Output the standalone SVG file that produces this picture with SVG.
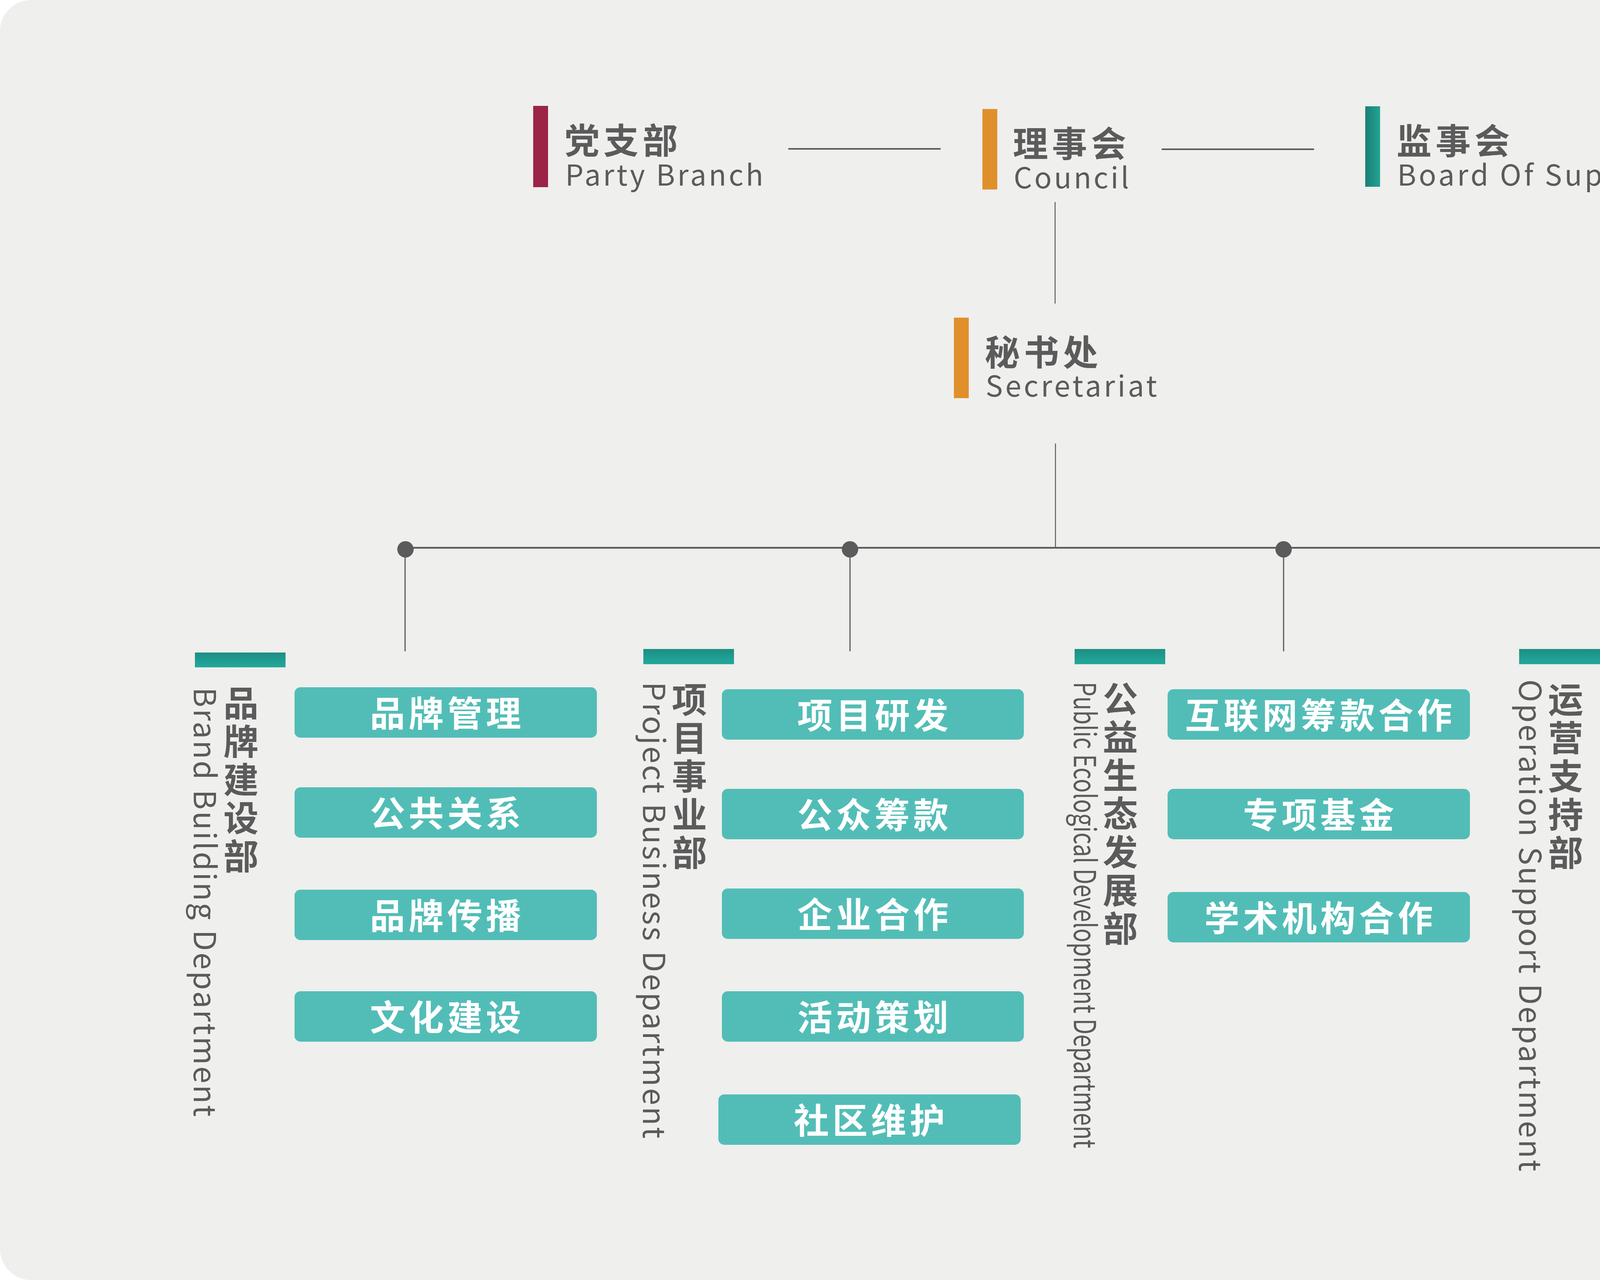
<svg xmlns="http://www.w3.org/2000/svg" width="5363" height="3276" viewBox="0 0 5363 3276">
<defs>
<linearGradient id="tealV" x1="0" y1="0" x2="0" y2="1"><stop offset="0" stop-color="#1e8e84"/><stop offset="1" stop-color="#22a99c"/></linearGradient>
<linearGradient id="tealH" x1="0" y1="0" x2="1" y2="0"><stop offset="0" stop-color="#1b7f75"/><stop offset="1" stop-color="#22a396"/></linearGradient>
<style>
text{font-family:"Noto Sans CJK SC","Noto Sans",sans-serif;}
.cn{font-size:90px;font-weight:700;fill:#5b5b5b;letter-spacing:10px;}
.en{font-size:74px;fill:#5b5b5b;}
.box{fill:#52bdb7;}
.bt{font-size:90px;font-weight:700;fill:#ffffff;letter-spacing:9px;text-anchor:middle;}
.vcn{font-size:90px;font-weight:700;fill:#5b5b5b;writing-mode:vertical-rl;letter-spacing:8px;}
.ven{font-size:78px;fill:#5b5b5b;}
.ln{stroke:#5b5b5b;fill:none;}
.dot{fill:#5b5b5b;}
.dbar{fill:url(#tealV);}
</style>
</defs>
<rect x="0" y="0" width="5363" height="3276" rx="80" ry="80" fill="#efefed"/>

<g id="connectors">
<line class="ln" x1="2018" y1="381" x2="2408" y2="381" stroke-width="4"/>
<line class="ln" x1="2974" y1="382" x2="3364" y2="382" stroke-width="4"/>
<line class="ln" x1="2701" y1="517" x2="2701" y2="777" stroke-width="2.5"/>
<line class="ln" x1="2702" y1="1135" x2="2702" y2="1400" stroke-width="2.5"/>
<line class="ln" x1="1038" y1="1402" x2="4466" y2="1402" stroke-width="4.5"/>
<line class="ln" x1="1037" y1="1406" x2="1037" y2="1667" stroke-width="3"/>
<line class="ln" x1="2176" y1="1406" x2="2176" y2="1667" stroke-width="3"/>
<line class="ln" x1="3286" y1="1406" x2="3286" y2="1667" stroke-width="3"/>
<line class="ln" x1="4466" y1="1406" x2="4466" y2="1667" stroke-width="3"/>
<circle class="dot" cx="1038" cy="1406" r="21"/>
<circle class="dot" cx="2176" cy="1406" r="21"/>
<circle class="dot" cx="3286" cy="1406" r="21"/>
<circle class="dot" cx="4466" cy="1406" r="21"/>
</g>

<g id="party-branch">
<rect x="1365" y="271" width="38" height="208" fill="#9c2446"/>
<text class="cn" x="1445" y="393">党支部</text>
<text class="en" x="1447" y="475" textLength="507" lengthAdjust="spacing">Party Branch</text>
</g>

<g id="council">
<rect x="2515" y="279" width="38" height="206" fill="#e0902b"/>
<text class="cn" x="2593" y="401">理事会</text>
<text class="en" x="2595" y="482" textLength="295" lengthAdjust="spacing">Council</text>
</g>

<g id="supervisors">
<rect x="3495" y="272" width="38" height="206" fill="url(#tealH)"/>
<text class="cn" x="3575" y="394">监事会</text>
<text class="en" x="3577" y="475" textLength="850" lengthAdjust="spacing">Board Of Supervisors</text>
</g>

<g id="secretariat">
<rect x="2442" y="813" width="38" height="206" fill="#e0902b"/>
<text class="cn" x="2521" y="935">秘书处</text>
<text class="en" x="2523" y="1015" textLength="439" lengthAdjust="spacing">Secretariat</text>
</g>

<g id="brand-dept">
<rect class="dbar" x="499" y="1670" width="232" height="38"/>
<text class="vcn" x="617" y="1754">品牌建设部</text>
<text class="ven" transform="translate(496,1759) rotate(90)" x="0" y="0" textLength="1099" lengthAdjust="spacing">Brand Building Department</text>
</g>
<g id="brand-items">
<rect class="box" x="754" y="1759" width="774" height="129" rx="15"/>
<text class="bt" x="1145" y="1859">品牌管理</text>
<rect class="box" x="754" y="2015" width="774" height="129" rx="15"/>
<text class="bt" x="1145" y="2115">公共关系</text>
<rect class="box" x="754" y="2277" width="774" height="129" rx="15"/>
<text class="bt" x="1145" y="2377">品牌传播</text>
<rect class="box" x="754" y="2537" width="774" height="129" rx="15"/>
<text class="bt" x="1145" y="2637">文化建设</text>
</g>

<g id="project-dept">
<rect class="dbar" x="1647" y="1661" width="232" height="39"/>
<text class="vcn" x="1765" y="1745">项目事业部</text>
<text class="ven" transform="translate(1646,1745) rotate(90)" x="0" y="0" textLength="1169" lengthAdjust="spacing">Project Business Department</text>
</g>
<g id="project-items">
<rect class="box" x="1848" y="1764" width="773" height="129" rx="15"/>
<text class="bt" x="2239" y="1864">项目研发</text>
<rect class="box" x="1848" y="2019" width="773" height="129" rx="15"/>
<text class="bt" x="2239" y="2119">公众筹款</text>
<rect class="box" x="1848" y="2274" width="773" height="129" rx="15"/>
<text class="bt" x="2239" y="2374">企业合作</text>
<rect class="box" x="1848" y="2537" width="773" height="129" rx="15"/>
<text class="bt" x="2239" y="2637">活动策划</text>
<rect class="box" x="1839" y="2801" width="774" height="129" rx="15"/>
<text class="bt" x="2230" y="2901">社区维护</text>
</g>

<g id="ecology-dept">
<rect class="dbar" x="2751" y="1661" width="232" height="39"/>
<text class="vcn" x="2868" y="1743">公益生态发展部</text>
<text class="ven" transform="translate(2749,1745) rotate(90)" x="0" y="0" textLength="1194" lengthAdjust="spacingAndGlyphs">Public Ecological Development Department</text>
</g>
<g id="ecology-items">
<rect class="box" x="2989" y="1764" width="774" height="129" rx="15"/>
<text class="bt" x="3380" y="1864">互联网筹款合作</text>
<rect class="box" x="2989" y="2019" width="774" height="129" rx="15"/>
<text class="bt" x="3380" y="2119">专项基金</text>
<rect class="box" x="2989" y="2283" width="774" height="129" rx="15"/>
<text class="bt" x="3380" y="2383">学术机构合作</text>
</g>

<g id="operation-dept">
<rect class="dbar" x="3889" y="1661" width="232" height="39"/>
<text class="vcn" x="4008" y="1745">运营支持部</text>
<text class="ven" transform="translate(3889,1739) rotate(90)" x="0" y="0" textLength="1259" lengthAdjust="spacing">Operation Support Department</text>
</g>
<g id="operation-items">
<rect class="box" x="4133" y="1767" width="774" height="129" rx="15"/>
<text class="bt" x="4524" y="1867">财务管理</text>
<rect class="box" x="4133" y="2027" width="774" height="129" rx="15"/>
<text class="bt" x="4524" y="2127">仓储管理</text>
<rect class="box" x="4133" y="2287" width="774" height="129" rx="15"/>
<text class="bt" x="4524" y="2387">行政支持</text>
<rect class="box" x="4133" y="2547" width="774" height="129" rx="15"/>
<text class="bt" x="4524" y="2647">档案管理</text>
</g>
</svg>
